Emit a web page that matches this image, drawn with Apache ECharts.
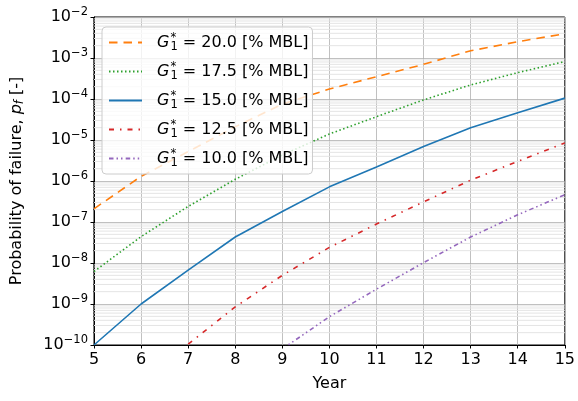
<!DOCTYPE html>
<html>
<head>
<meta charset="utf-8">
<script src="https://cdn.jsdelivr.net/npm/echarts@6/dist/echarts.min.js"></script>
<style>html,body{margin:0;padding:0;background:#fff}#c{width:578px;height:401px}</style>
</head>
<body>
<div id="c"></div>
<script>
const years = [5, 6, 7, 8, 9, 10, 11, 12, 13, 14, 15];
const labels = ['20.0', '17.5', '15.0', '12.5', '10.0'];
const p200 = [2.1e-7, 1.3e-6, 5.2e-6, 2.1e-5, 7.5e-5, 1.75e-4, 3.5e-4, 7.0e-4, 1.5e-3, 2.5e-3, 3.9e-3];
const p175 = [6.2e-9, 4.4e-8, 2.4e-7, 1.1e-6, 4.3e-6, 1.4e-5, 3.7e-5, 9.5e-5, 2.2e-4, 4.4e-4, 8.2e-4];
const p150 = [1.0e-10, 1.0e-9, 6.7e-9, 4.3e-8, 1.8e-7, 7.2e-7, 2.2e-6, 6.9e-6, 2.0e-5, 4.6e-5, 1.05e-4];
const p125 = [null, null, 1.05e-10, 8.5e-10, 5.0e-9, 2.4e-8, 8.9e-8, 3.1e-7, 1.05e-6, 3.0e-6, 8.5e-6];
const p100 = [null, null, null, null, 8e-11, 4.9e-10, 2.3e-9, 1.02e-8, 4.3e-8, 1.5e-7, 4.6e-7];
const yTickExps = [-10, -9, -8, -7, -6, -5, -4, -3, -2];

const FONT = 'DejaVu Sans';
const FS = 16;
const FSS = 11.5;
const colors = ['#ff7f0e', '#2ca02c', '#1f77b4', '#d62728', '#9467bd'];
const dashes = [[8.5, 6], [1.5, 2.5], 'solid', [5, 6, 1.5, 6], [4.5, 3, 1.5, 3, 1.5, 3.2]];
const valuesList = [p200, p175, p150, p125, p100];

function pairs(vals) {
  const out = [];
  vals.forEach((v, i) => { if (v !== null) out.push([years[i], v]); });
  return out;
}
const names = labels.map(l => 'G1* = ' + l);

// minor grid values (2..9 x 10^d)
const minorVals = [];
for (let d = -10; d < -2; d++) for (let k = 2; k <= 9; k++) minorVals.push(k * Math.pow(10, d));

const xMin = years[0], xMax = years[years.length - 1];
const series = [];
// minor gridlines and minor ticks drawn through the axes
minorVals.forEach(v => {
  series.push({
    name: 'minorgrid', type: 'line', silent: true, symbol: 'none', showSymbol: false, z: 1,
    data: [[xMin, v], [xMax, v]],
    lineStyle: { color: '#e4e4e4', width: 1 }
  });
  series.push({
    name: 'minortick', type: 'line', silent: true, symbol: 'none', showSymbol: false, z: 4, clip: false,
    data: [[xMin - 0.05, v], [xMin, v]],
    lineStyle: { color: '#000', width: 0.7 }
  });
});
valuesList.forEach((vals, i) => series.push({
  name: names[i],
  type: 'line',
  data: pairs(vals),
  showSymbol: false,
  symbol: 'none',
  clip: true,
  z: 3,
  lineStyle: { color: colors[i], width: 1.6, type: dashes[i] },
  itemStyle: { color: colors[i] }
}));

const chart = echarts.init(document.getElementById('c'), null, { renderer: 'canvas' });
chart.setOption({
  animation: false,
  textStyle: { fontFamily: FONT },
  grid: { left: 94, right: 11, top: 17, bottom: 56, show: true, borderColor: '#000', borderWidth: 1, backgroundColor: 'transparent' },
  legend: {
    data: names,
    orient: 'vertical',
    left: 102, top: 27,
    itemWidth: 33, itemHeight: 14, itemGap: 8,
    padding: [5, 4, 5, 6],
    backgroundColor: 'rgba(255,255,255,0.8)',
    borderColor: '#cccccc', borderWidth: 1, borderRadius: 4,
    itemStyle: { opacity: 0 },
    z: 10,
    formatter: function (name) {
      const idx = names.indexOf(name);
      return '{g|G}{sup|*}{sub|1}{t| = ' + labels[idx] + ' [% MBL]}';
    },
    textStyle: {
      fontFamily: FONT, fontSize: FS, color: '#000',
      rich: {
        g: { fontFamily: FONT, fontStyle: 'italic', fontSize: FS, padding: [0, 0, 0, 10], lineHeight: 23 },
        sup: { fontFamily: FONT, fontSize: FSS, width: 0, align: 'left', padding: [0, 0, 8, 1], lineHeight: 23 },
        sub: { fontFamily: FONT, fontSize: FSS, padding: [9, 0, 0, 0], lineHeight: 23 },
        t: { fontFamily: FONT, fontSize: FS, lineHeight: 23 }
      }
    }
  },
  xAxis: {
    type: 'value', min: 5, max: 15, interval: 1,
    name: 'Year', nameLocation: 'middle', nameGap: 31,
    nameTextStyle: { fontFamily: FONT, fontSize: FS, color: '#000' },
    axisLine: { show: true, onZero: false, lineStyle: { color: '#000', width: 1 } },
    axisTick: { show: true, inside: false, length: 3.5, lineStyle: { color: '#000' } },
    axisLabel: { color: '#000', fontFamily: FONT, fontSize: FS, margin: 7 },
    splitLine: { show: true, lineStyle: { color: '#b0b0b0', width: 0.8 } }
  },
  yAxis: {
    type: 'log', logBase: 10, min: 1e-10, max: 1e-2, interval: 1,
    name: 'Probability of failure, {i|p}{s|f} [-]', nameLocation: 'middle', nameGap: 68,
    nameTextStyle: {
      fontFamily: FONT, fontSize: FS, color: '#000',
      rich: {
        i: { fontFamily: FONT, fontStyle: 'italic', fontSize: FS },
        s: { fontFamily: FONT, fontStyle: 'italic', fontSize: FSS, padding: [7, 0, 0, 0] }
      }
    },
    axisLine: { show: true, lineStyle: { color: '#000', width: 1 } },
    axisTick: { show: true, inside: false, length: 3.5, lineStyle: { color: '#000' } },
    axisLabel: {
      color: '#000', fontFamily: FONT, fontSize: FS, margin: 6,
      formatter: function (v) {
        const e = Math.round(Math.log10(v));
        if (yTickExps.indexOf(e) < 0) return '';
        return '{b|10}{e|\u2212' + Math.abs(e) + '}';
      },
      rich: {
        b: { fontFamily: FONT, fontSize: FS, color: '#000' },
        e: { fontFamily: FONT, fontSize: FSS, color: '#000', padding: [0, 0, 9, 0] }
      }
    },
    splitLine: { show: true, lineStyle: { color: '#b0b0b0', width: 0.8 } }
  },
  series: series
});
</script>
</body>
</html>
